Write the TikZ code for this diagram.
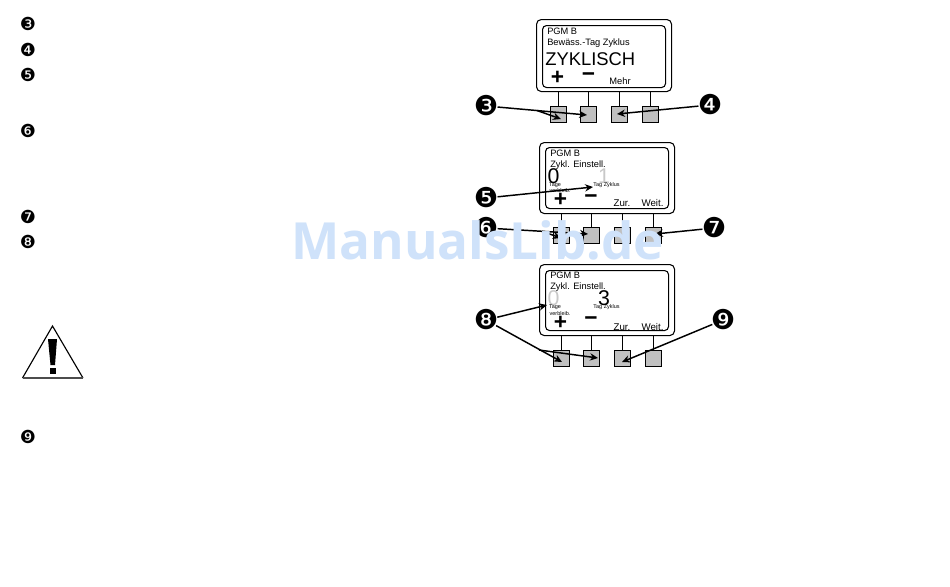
\documentclass[tikz,border=0pt]{standalone}
\usepackage{fontspec}
\setmainfont{Liberation Sans}
\newfontfamily\wmfont{Open Sans}
\newfontfamily\dingfont{DejaVu Sans}
\usetikzlibrary{arrows.meta}
\definecolor{btngrey}{HTML}{C0C0C0}
\definecolor{dimgrey}{HTML}{C8C8C8}
\definecolor{wmblue}{HTML}{CFE2FA}
\newcommand{\fpx}[1]{\fontsize{#1}{#1}\selectfont}
\newcommand{\ding}[1]{\smash{\makebox[0pt]{\raisebox{-0.36em}{\dingfont #1}}}}
\tikzset{
  x=0.75pt,y=-0.75pt,
  outerbox/.style={draw=black,line width=0.8pt,rounded corners=3.5pt,inner sep=0,fill=white},
  innerbox/.style={draw=black,line width=0.8pt,rounded corners=3pt,inner sep=0},
  btn/.style={draw=black,fill=btngrey,line width=0.65pt,minimum width=12pt,minimum height=11.5pt,inner sep=0},
  stem/.style={draw=black,line width=0.65pt},
  badge/.style={circle,text=black,inner sep=0,minimum size=17pt,font=\fpx{20.5}},
  sbadge/.style={circle,text=black,inner sep=0,minimum size=11.5pt,font=\fpx{13.5}},
  lab/.style={anchor=base west,inner sep=0,font=\fpx{6.95}},
  tiny/.style={anchor=center,inner sep=0,font=\fpx{4.1}},
  big/.style={anchor=center,inner sep=0,font=\fpx{16}},
  keyl/.style={anchor=center,inner sep=0,font=\fpx{7}},
  sym/.style={anchor=center,inner sep=0,font=\fpx{17}\bfseries},
  pointer/.style={draw=black,line width=1.1pt,-{Stealth[length=6pt,width=5.5pt]}},
}
\begin{document}
\begin{tikzpicture}
\useasboundingbox (0,0) rectangle (950,586);
\fill[white] (0,0) rectangle (950,586);

% left list
\node[sbadge] (l3) at (28,24) {\ding{❸}};
\node[sbadge] (l4) at (28,50) {\ding{❹}};
\node[sbadge] (l5) at (28,75) {\ding{❺}};
\node[sbadge] (l6) at (28,131) {\ding{❻}};
\node[sbadge] (l7) at (28,217) {\ding{❼}};
\node[sbadge] (l8) at (28,242) {\ding{❽}};
\node[sbadge] (l9) at (28,437) {\ding{❾}};

% warning triangle
\draw[line width=0.85pt,line join=miter] (22.5,378) -- (52.5,326) -- (83,378);
\draw[line width=1.3pt,draw=black!70] (22.5,378) -- (83,378);
\fill[black] (48,339) -- (57,339) -- (55,365) -- (50.5,365) -- cycle;
\fill[black] (50,368) rectangle (55.5,374);

% panel 1
\node[outerbox,minimum width=101.25pt,minimum height=54pt,anchor=north west] (p1) at (536,19) {};
\node[innerbox,minimum width=92.25pt,minimum height=46.5pt,anchor=north west] (p1i) at (542,25) {};
\node[btn] (p1a) at (558,114.5) {};
\node[btn] (p1b) at (588.5,114.5) {};
\node[btn] (p1c) at (619.5,114.5) {};
\node[btn] (p1d) at (650,114.5) {};
\draw[stem] (p1a.north) -- (p1a.north |- p1.south);
\draw[stem] (p1b.north) -- (p1b.north |- p1.south);
\draw[stem] (p1c.north) -- (p1c.north |- p1.south);
\draw[stem] (p1d.north) -- (p1d.north |- p1.south);
\node[lab] (p1t1) at (547,34) {PGM B};
\node[lab] (p1t2) at (547,45) {Bewäss.-Tag Zyklus};
\node[anchor=base west,inner sep=0,font=\fpx{13.8}] (p1t3) at (545,65) {ZYKLISCH};
\node[sym] (p1t4) at (557.5,78) {+};
\node[sym] (p1t5) at (588.5,77) {\textminus};
\node[keyl] (p1t6) at (620,81) {Mehr};
\node[badge] (b3) at (486,106) {\ding{❸}};
\node[badge] (b4) at (710,105) {\ding{❹}};
\coordinate (t3a) at (587,115);
\coordinate (t3b) at (561,119);
\coordinate (j3) at (537,110.5);
\coordinate (t4) at (617,114);
\draw[pointer] (b3) -- (t3a);
\draw[pointer] (j3) -- (t3b);
\draw[pointer] (b4) -- (t4);

% panel 2
\node[outerbox,minimum width=101.25pt,minimum height=53.25pt,anchor=north west] (p2) at (539,142) {};
\node[innerbox,minimum width=92.25pt,minimum height=45.75pt,anchor=north west] (p2i) at (545,147) {};
\node[btn] (p2a) at (561,235.5) {};
\node[btn] (p2b) at (591.5,235.5) {};
\node[btn] (p2c) at (622,235.5) {};
\node[btn] (p2d) at (653,235.5) {};
\draw[stem] (p2a.north) -- (p2a.north |- p2.south);
\draw[stem] (p2b.north) -- (p2b.north |- p2.south);
\draw[stem] (p2c.north) -- (p2c.north |- p2.south);
\draw[stem] (p2d.north) -- (p2d.north |- p2.south);
\node[lab] (p2t1) at (550,156) {PGM B};
\node[lab] (p2t2) at (550,167) {Zykl. Einstell.};
\node[big] (p2t3) at (553.5,176.5) {0};
\node[big,text=dimgrey] (p2t4) at (604,176.5) {1};
\node[tiny] (p2t5) at (555,185) {Tage};
\node[tiny] (p2t6) at (560,191) {verbleib.};
\node[tiny] (p2t7) at (606.5,185) {Tag Zyklus};
\node[sym] (p2t8) at (560.5,200) {+};
\node[sym] (p2t9) at (591,199) {\textminus};
\node[keyl,font=\fpx{7.3}] (p2t10) at (622,203) {Zur.};
\node[keyl,font=\fpx{7.3}] (p2t11) at (652.5,203) {Weit.};
\node[badge] (b5) at (486,198) {\ding{❺}};
\node[badge] (b6) at (486,228) {\ding{❻}};
\node[badge] (b7) at (714,228) {\ding{❼}};
\coordinate (t5) at (593,187);
\coordinate (t6a) at (588,234);
\coordinate (j6) at (542,231.3);
\coordinate (t6b) at (561,238);
\coordinate (t7) at (655,234);
\draw[pointer] (b5) -- (t5);
\draw[pointer] (b6) -- (t6a);
\draw[pointer] (j6) -- (t6b);
\draw[pointer] (b7) -- (t7);

% panel 3
\node[outerbox,minimum width=101.25pt,minimum height=53.25pt,anchor=north west] (p3) at (539,264) {};
\node[innerbox,minimum width=92.25pt,minimum height=45pt,anchor=north west] (p3i) at (545,270) {};
\node[btn] (p3a) at (561,358.5) {};
\node[btn] (p3b) at (591.5,358.5) {};
\node[btn] (p3c) at (622,358.5) {};
\node[btn] (p3d) at (653,358.5) {};
\draw[stem] (p3a.north) -- (p3a.north |- p3.south);
\draw[stem] (p3b.north) -- (p3b.north |- p3.south);
\draw[stem] (p3c.north) -- (p3c.north |- p3.south);
\draw[stem] (p3d.north) -- (p3d.north |- p3.south);
\node[lab] (p3t1) at (550,278) {PGM B};
\node[lab] (p3t2) at (550,289) {Zykl. Einstell.};
\node[big,text=dimgrey] (p3t3) at (553.5,298.5) {0};
\node[big] (p3t4) at (604,298.5) {3};
\node[tiny] (p3t5) at (555,307.5) {Tage};
\node[tiny] (p3t6) at (560,313.5) {verbleib.};
\node[tiny] (p3t7) at (606.5,307.5) {Tag Zyklus};
\node[sym] (p3t8) at (560.5,323) {+};
\node[sym] (p3t9) at (591,321) {\textminus};
\node[keyl,font=\fpx{7.3}] (p3t10) at (622,327) {Zur.};
\node[keyl,font=\fpx{7.3}] (p3t11) at (652.5,327) {Weit.};
\node[badge] (b8) at (486,320) {\ding{❽}};
\node[badge] (b9) at (723,320) {\ding{❾}};
\coordinate (t8a) at (547,305);
\coordinate (t8b) at (562,362);
\coordinate (j8) at (539,350);
\coordinate (t8c) at (598,358);
\coordinate (t9) at (622,362);
\draw[pointer] (b8) -- (t8a);
\draw[pointer] (b8) -- (t8b);
\draw[pointer] (j8) -- (t8c);
\draw[pointer] (b9) -- (t9);

% watermark
\node[anchor=base west,inner sep=0,text=wmblue,font=\wmfont\fpx{38.4}\bfseries] (wm) at (291,259) {ManualsLib.de};
\end{tikzpicture}
\end{document}
